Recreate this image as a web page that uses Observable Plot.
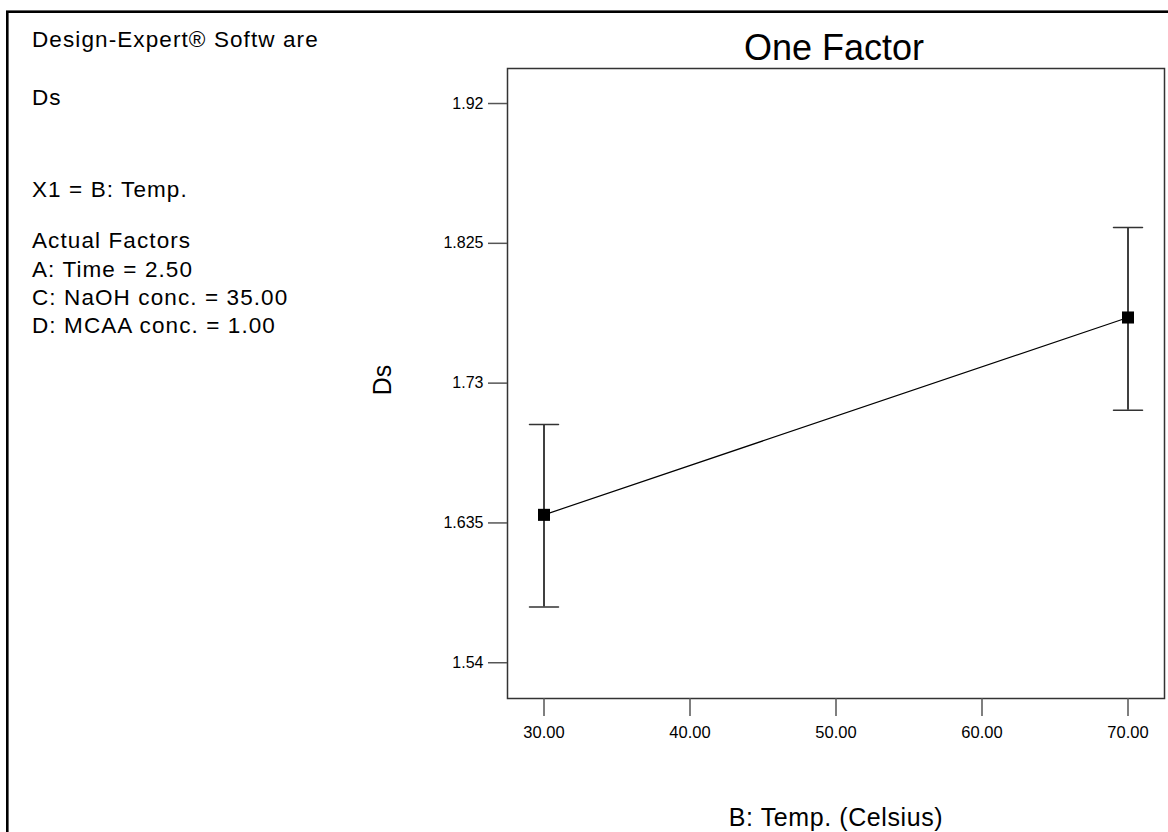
<!DOCTYPE html>
<html><head><meta charset="utf-8">
<script src="https://cdn.jsdelivr.net/npm/d3@7"></script>
<script src="https://cdn.jsdelivr.net/npm/@observablehq/plot@0.6"></script>
<style>
body{margin:0;background:#fff;}
#chart svg{display:block;}
</style>
</head><body><div id="chart"></div>
<script>
// ---- data ----
const temps = [30, 70];
const dsMean = [1.6405, 1.7746];
const dsLow = [1.5779, 1.7116];
const dsHigh = [1.7019, 1.8358];
const xTicks = [30, 40, 50, 60, 70];
const xTickLabels = ["30.00", "40.00", "50.00", "60.00", "70.00"];
const yTicks = [1.54, 1.635, 1.73, 1.825, 1.92];
const yTickLabels = ["1.54", "1.635", "1.73", "1.825", "1.92"];
const titleText = "One Factor";
const xLabel = "B: Temp. (Celsius)";
const yLabel = "Ds";
const infoLines = ["Design-Expert® Softw are", "Ds", "X1 = B: Temp.", "Actual Factors", "A: Time = 2.50", "C: NaOH conc. = 35.00", "D: MCAA conc. = 1.00"];

const rows = temps.map((t, i) => ({x: t, y: dsMean[i], lo: dsLow[i], hi: dsHigh[i]}));
const font = "'Liberation Sans', Arial, Helvetica, sans-serif";
const capShape = {draw(ctx, l) { ctx.moveTo(0, 0); ctx.lineTo(0, -l); }};

const chart = Plot.plot({
  width: 1168,
  height: 832,
  marginLeft: 507,
  marginRight: 4,
  marginTop: 68,
  marginBottom: 134,
  style: {fontFamily: font, background: "#fff", color: "#000"},
  x: {domain: [27.5, 72.5]},
  y: {domain: [1.5157, 1.9438]},
  marks: [
    Plot.frame({stroke: "#333", strokeWidth: 1.5}),
    Plot.axisY({ticks: yTicks, tickFormat: (d) => yTickLabels[yTicks.indexOf(d)], tickSize: 19, tickPadding: 5, fontSize: 16, stroke: "#555", strokeWidth: 1.5, label: null}),
    Plot.axisX({ticks: xTicks, tickFormat: (d) => xTickLabels[xTicks.indexOf(d)], tickSize: 18, tickPadding: 10, fontSize: 16.5, stroke: "#555", strokeWidth: 1.5, label: null}),
    Plot.ruleX(rows, {x: "x", y1: "lo", y2: "hi", stroke: "#000", strokeWidth: 1.5}),
    Plot.vector(rows, {x: "x", y: "hi", length: 29, rotate: 90, anchor: "middle", shape: capShape, stroke: "#333", strokeWidth: 1.5}),
    Plot.vector(rows, {x: "x", y: "lo", length: 29, rotate: 90, anchor: "middle", shape: capShape, stroke: "#333", strokeWidth: 1.5}),
    Plot.line(rows, {x: "x", y: "y", stroke: "#000", strokeWidth: 1.2}),
    Plot.dot(rows, {x: "x", y: "y", symbol: "square", r: 6.8, fill: "#000", stroke: "none"})
  ]
});

document.getElementById("chart").appendChild(chart);
const svg = d3.select(chart);

// outer border (right/bottom edges fall outside the picture)
svg.append("rect").attr("x", 7.3).attr("y", 11.7).attr("width", 1200).attr("height", 900)
  .attr("fill", "none").attr("stroke", "#000").attr("stroke-width", 2.6);

// info panel
const infoBaselines = [46.5, 105, 196.5, 248, 276.5, 305, 333];
svg.append("g").attr("font-family", font).attr("font-size", 22.5).attr("letter-spacing", "1.1px")
  .attr("fill", "#000").attr("text-anchor", "start")
  .selectAll("text").data(infoLines).join("text")
  .attr("x", 32).attr("y", (d, i) => infoBaselines[i]).text(d => d);

// title
svg.append("text").attr("x", 834).attr("y", 59.5).attr("text-anchor", "middle")
  .attr("font-family", font).attr("font-size", 36).attr("fill", "#000").text(titleText);

// x label
svg.append("text").attr("x", 836).attr("y", 826).attr("text-anchor", "middle")
  .attr("font-family", font).attr("font-size", 25).attr("letter-spacing", "0.6px").attr("fill", "#000").text(xLabel);

// y label
svg.append("text").attr("transform", "translate(391,380) rotate(-90)").attr("text-anchor", "middle")
  .attr("font-family", font).attr("font-size", 25).attr("fill", "#000").text(yLabel);
</script>
</body></html>
